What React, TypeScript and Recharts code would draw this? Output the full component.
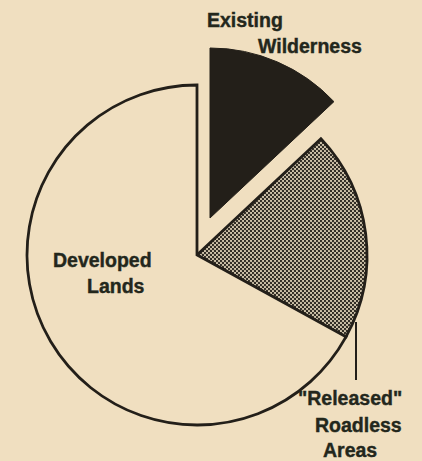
import React from 'react';
import { PieChart, Pie, Cell } from 'recharts';

// shares of land, in percent
const categories = ['Existing Wilderness', '"Released" Roadless Areas', 'Developed Lands'];
const shares = [13, 20, 67];

const data = categories.map((name, i) => ({ name, value: shares[i] }));

const BG = '#f0dfc0';
const INK = '#231f19';
const TEXT = '#23271c';

const label: React.CSSProperties = {
  position: 'absolute',
  fontFamily: '"Liberation Sans", Arial, sans-serif',
  fontWeight: 'bold',
  fontSize: 19.5,
  color: TEXT,
  lineHeight: 1,
  whiteSpace: 'nowrap',
  WebkitTextStroke: `0.4px ${TEXT}`,
};

export default function App() {
  return (
    <div style={{ position: 'absolute', left: 0, top: 0, width: 422, height: 461, background: BG, overflow: 'hidden' }}>
      <PieChart width={422} height={461}>
        <defs>
          <pattern id="dots" width="4" height="4" patternUnits="userSpaceOnUse">
            <rect width="4" height="4" fill="#cfc3aa" />
            <circle cx="1" cy="1" r="1.15" fill="#2b2720" />
            <circle cx="3" cy="3" r="1.15" fill="#2b2720" />
          </pattern>
        </defs>
        {/* main pie: released + developed, wilderness slot left empty */}
        <Pie
          data={data}
          dataKey="value"
          cx={192}
          cy={250}
          outerRadius={170}
          startAngle={90}
          endAngle={-270}
          isAnimationActive={false}
        >
          <Cell fill="none" stroke="none" />
          <Cell fill="url(#dots)" stroke={INK} strokeWidth={2.8} />
          <Cell fill={BG} stroke={INK} strokeWidth={2.8} />
        </Pie>
        {/* exploded wilderness slice */}
        <Pie
          data={data}
          dataKey="value"
          cx={205}
          cy={213}
          outerRadius={170}
          startAngle={90}
          endAngle={-270}
          isAnimationActive={false}
        >
          <Cell fill={INK} stroke={INK} strokeWidth={1} />
          <Cell fill="none" stroke="none" />
          <Cell fill="none" stroke="none" />
        </Pie>
      </PieChart>

      <div style={{ ...label, left: 207, top: 10.5 }}>Existing</div>
      <div style={{ ...label, left: 258, top: 36.5 }}>Wilderness</div>
      <div style={{ ...label, left: 53, top: 250.5 }}>Developed</div>
      <div style={{ ...label, left: 87, top: 276.5 }}>Lands</div>
      <div style={{ ...label, left: 298, top: 388.5 }}>"Released"</div>
      <div style={{ ...label, left: 315, top: 415.5 }}>Roadless</div>
      <div style={{ ...label, left: 323, top: 440.5 }}>Areas</div>
      <div style={{ position: 'absolute', left: 355, top: 322, width: 2, height: 58, background: INK }} />
    </div>
  );
}
